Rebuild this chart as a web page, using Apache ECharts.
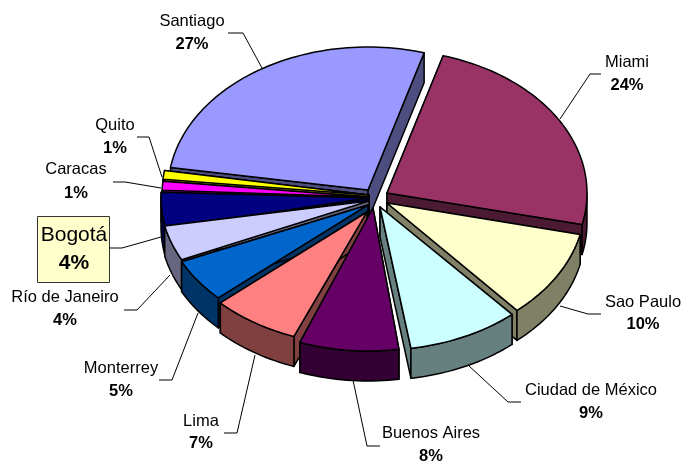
<!DOCTYPE html>
<html>
<head>
<meta charset="utf-8">
<style>html,body{margin:0;padding:0;background:#fff}#main{width:682px;height:461px}</style>
<script src="https://cdn.jsdelivr.net/npm/echarts@6/dist/echarts.min.js"></script>
</head>
<body>
<div id="main"></div>
<script>
// values, clockwise from Santiago
var cities = ['Santiago', 'Miami', 'Sao Paulo', 'Ciudad de México', 'Buenos Aires', 'Lima', 'Monterrey', 'Río de Janeiro', 'Bogotá', 'Caracas', 'Quito'];
var shares = [27, 24, 10, 9, 8, 7, 5, 4, 4, 1, 1];
var topColors = ['#9999FF', '#993366', '#FFFFCC', '#CCFFFF', '#660066', '#FF8080', '#0066CC', '#CCCCFF', '#000080', '#FF00FF', '#FFFF00'];
var sideColors = ['#4D4D80', '#4D1A33', '#808066', '#668080', '#330033', '#804040', '#003366', '#666680', '#000040', '#800080', '#808000'];

// layout of the pie: ellipse centre of each exploded slice, and where its point lands
var startAngle = 279.1, rx = 200, ry = 143, depth = 30;
var centers = [[368, 190], [387, 193], [385, 203], [380, 207], [368, 208], [362, 202], [360, 197], [360, 195], [361, 197], [362, 195], [362, 193]];
var tips = [[368, 190], [387, 193], [387, 203], [380, 207], [373, 208], [367, 212], [368, 205], [369, 201], [369, 198], [369, 197], [369, 195]];
// back to front
var drawOrder = [0, 1, 2, 3, 10, 9, 8, 7, 6, 5, 4];

// label centres [x, name y, percent y] and leader lines
var labelPos = [[192, 21, 44], [627, 62, 85], [643, 302, 324], [591, 390, 413], [431, 433, 456], [201, 421, 443], [121, 368, 391], [65, 297, 320], [74, 235, 263], [76, 169, 193], [115, 125, 148]];
var leaders = [
    [[228, 33], [243, 33], [262, 68]],
    [[601, 74], [590, 74], [560, 119]],
    [[560, 306], [588, 314], [601, 314]],
    [[468, 365], [508, 402], [521, 402]],
    [[353, 380], [367, 446], [380, 446]],
    [[255, 355], [237, 433], [224, 433]],
    [[198, 313], [172, 380], [159, 380]],
    [[170, 275], [137, 310], [124, 310]],
    [[161, 237], [122, 248], [109, 248]],
    [[161, 188], [125, 182], [113, 182]],
    [[162, 177], [149, 137], [137, 137]]
];

function pt(c, deg, dy) {
    var a = deg * Math.PI / 180;
    return [c[0] + rx * Math.sin(a), c[1] - ry * Math.cos(a) + (dy || 0)];
}

function arc(c, from, to, dy) {
    var pts = [];
    for (var d = from; d < to; d += 1.5) {
        pts.push(pt(c, d, dy));
    }
    pts.push(pt(c, to, dy));
    return pts;
}

function face(points, fill) {
    return {
        type: 'polygon',
        shape: { points: points },
        style: { fill: fill, stroke: '#000', lineWidth: 1.5, lineJoin: 'round' }
    };
}

function sliceFrom(i) {
    var sum = 0;
    for (var k = 0; k < i; k++) {
        sum += shares[k];
    }
    var from = startAngle + sum * 3.6;
    return from >= 360 ? from - 360 : from;
}

function renderSlice(params, api) {
    var i = api.value(0);
    var from = sliceFrom(i);
    var to = from + api.value(1) * 3.6;
    var c = centers[i];
    var t = tips[i];
    var side = sideColors[i];
    var kids = [];
    kids.push(face([t, pt(c, from), pt(c, from, depth), [t[0], t[1] + depth]], side));
    kids.push(face([t, pt(c, to), pt(c, to, depth), [t[0], t[1] + depth]], side));
    var lo = Math.max(from, 90), hi = Math.min(to, 270);
    if (hi > lo) {
        kids.push(face(arc(c, lo, hi, 0).concat(arc(c, lo, hi, depth).reverse()), side));
    }
    kids.push(face([t].concat(arc(c, from, to, 0)), topColors[i]));
    return { type: 'group', children: kids };
}

function renderLabel(params, api) {
    var i = api.value(0);
    var p = labelPos[i];
    var big = cities[i] === 'Bogotá';
    var size = big ? 21 : 16.5;
    var kids = [];
    if (big) {
        kids.push({
            type: 'rect',
            shape: { x: 37.5, y: 216.5, width: 72, height: 66 },
            style: { fill: '#FFFFCC', stroke: '#333', lineWidth: 1 }
        });
    }
    kids.push({
        type: 'polyline',
        shape: { points: leaders[i] },
        style: { fill: null, stroke: '#000', lineWidth: 1 }
    });
    kids.push({
        type: 'text',
        style: {
            text: cities[i], x: p[0], y: p[1], fill: '#000',
            font: size + 'px "Liberation Sans"', textAlign: 'center', textVerticalAlign: 'middle'
        }
    });
    kids.push({
        type: 'text',
        style: {
            text: api.value(1) + '%', x: p[0], y: p[2], fill: '#000',
            font: 'bold ' + size + 'px "Liberation Sans"', textAlign: 'center', textVerticalAlign: 'middle'
        }
    });
    return { type: 'group', children: kids };
}

var mychart = echarts.init(document.getElementById('main'));
mychart.setOption({
    animation: false,
    series: [
        {
            type: 'custom',
            coordinateSystem: 'none',
            renderItem: renderSlice,
            silent: true,
            z: 2,
            data: drawOrder.map(function (i) { return [i, shares[i]]; })
        },
        {
            type: 'custom',
            coordinateSystem: 'none',
            renderItem: renderLabel,
            silent: true,
            z: 1,
            data: cities.map(function (name, i) { return [i, shares[i]]; })
        }
    ]
});
</script>
</body>
</html>
